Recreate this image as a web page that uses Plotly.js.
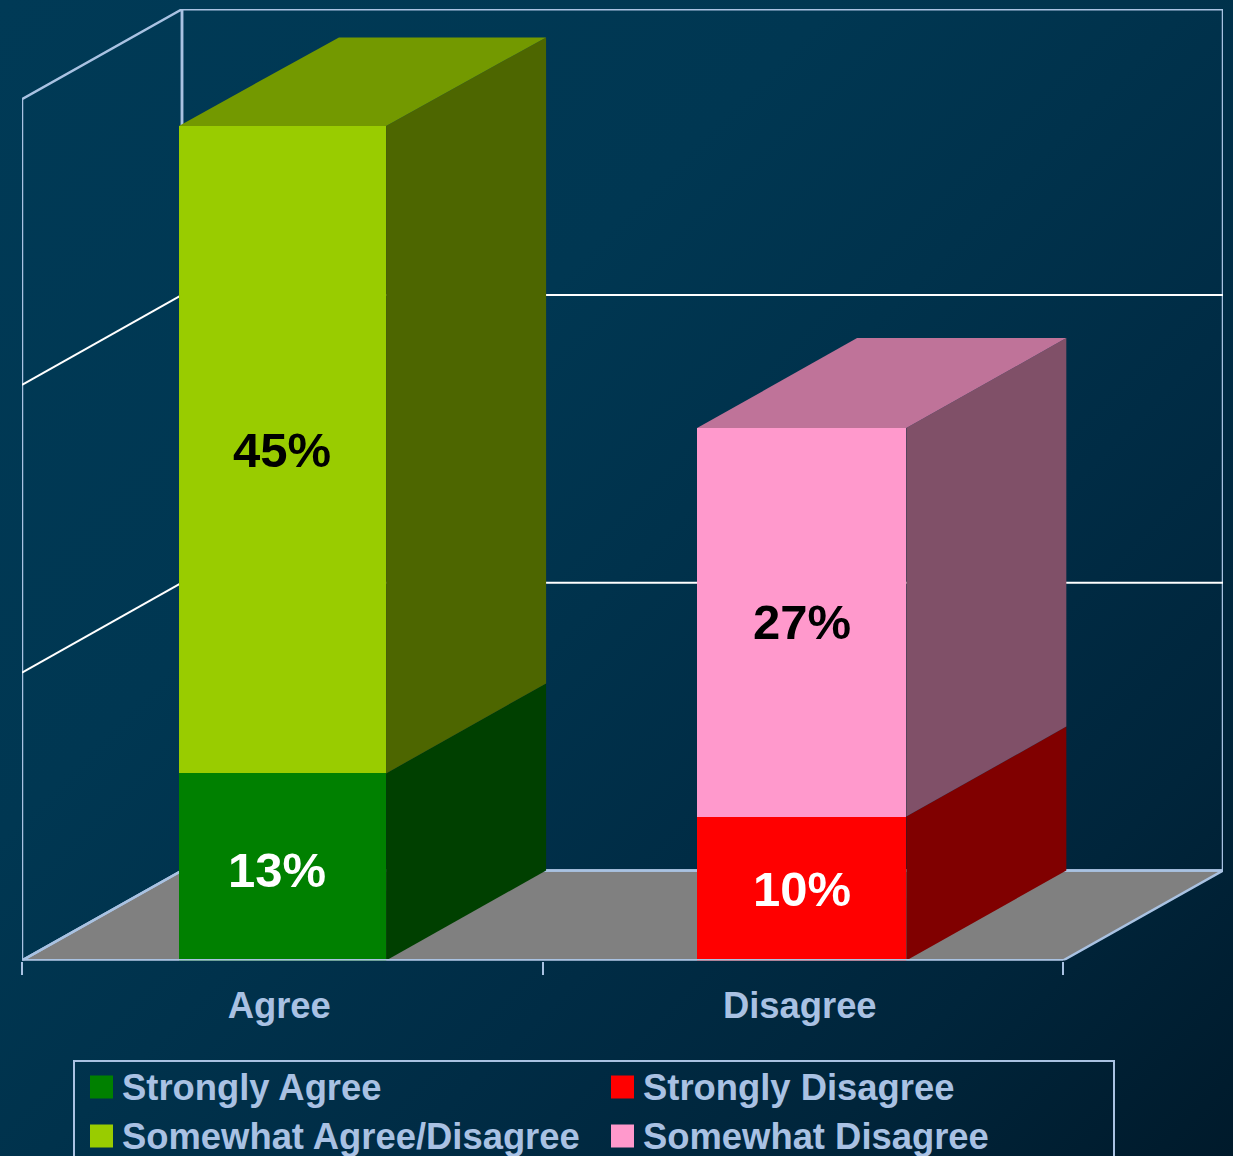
<!DOCTYPE html>
<html>
<head>
<meta charset="utf-8">
<script src="https://cdn.plot.ly/plotly-3.0.1.min.js"></script>
<style>
html,body{margin:0;padding:0;width:1233px;height:1156px;overflow:hidden;
background:linear-gradient(135deg,#003a56 0%,#003752 35%,#00324c 50%,#002c45 65%,#00253b 82%,#001a2b 100%);}
#chart{width:1233px;height:1156px;}
</style>
</head>
<body>
<div id="chart"></div>
<script>
// ---- data ----
const categories = ['Agree', 'Disagree'];
const stronglyAgree = [13, null];
const somewhatAgreeDisagree = [45, null];
const stronglyDisagree = [null, 10];
const somewhatDisagree = [null, 27];
const seriesNames = ['Strongly Agree', 'Somewhat Agree/Disagree', 'Strongly Disagree', 'Somewhat Disagree'];
const frontColors = ['#008000', '#99CC00', '#FF0000', '#FF99CC'];
const sideColors = ['#004000', '#4D6600', '#800000', '#805068'];
const topColors = ['#006000', '#739900', '#C00000', '#BF7399'];
const labelColors = ['#FFFFFF', '#000000', '#FFFFFF', '#000000'];
const labelShiftsX = [-5, 0, -1, -1];
const labelShiftsY = [-3, 0, 0, 0];
const gridValues = [20, 40];
const wallTopValue = 59.85;

// ---- geometry ----
const W = 1233, H = 1156;
const plotL = 22, plotR = 1223, plotT = 9, plotB = 960.5;
const catPx = 520.5, valPx = 14.39;
const depthX = 160 / catPx, depthY = 90 / valPx;
const barCentres = [0.0005, 0.998];
const barWidths = [0.398, 0.402];
const topDepthY = [88.5 / valPx, 90 / valPx];
const xMin = -0.5, xFront = 1.5, xMax = xFront + depthX;
const lineColor = '#A9C2E2', textColor = '#A9C1E3';
const font = '"Liberation Sans", Arial, sans-serif';
const px = v => v / W, py = v => 1 - v / H;

const series = [stronglyAgree, somewhatAgreeDisagree, stronglyDisagree, somewhatDisagree];

const poly = pts => 'M' + pts.map(p => p[0] + ',' + p[1]).join('L') + 'Z';
const lineShape = (a, b, color, width) => ({type: 'line', xref: 'x', yref: 'y', layer: 'below',
  x0: a[0], y0: a[1], x1: b[0], y1: b[1], line: {color, width}});

const shapes = [];
// floor
shapes.push({type: 'path', xref: 'x', yref: 'y', layer: 'below',
  path: poly([[xMin, 0], [xFront, 0], [xFront + depthX, depthY], [xMin + depthX, depthY]]),
  fillcolor: '#808080', line: {color: lineColor, width: 2.5}});
// left and back walls
shapes.push({type: 'path', xref: 'x', yref: 'y', layer: 'below',
  path: poly([[xMin, 0], [xMin, wallTopValue], [xMin + depthX, wallTopValue + depthY], [xMin + depthX, depthY]]),
  line: {color: lineColor, width: 2.5}});
shapes.push({type: 'path', xref: 'x', yref: 'y', layer: 'below',
  path: poly([[xMin + depthX, depthY], [xMin + depthX, wallTopValue + depthY], [xMax, wallTopValue + depthY], [xMax, depthY]]),
  line: {color: lineColor, width: 2.5}});
// gridlines
gridValues.forEach(g => {
  shapes.push(lineShape([xMin, g], [xMin + depthX, g + depthY], '#FFFFFF', 2));
  shapes.push(lineShape([xMin + depthX, g + depthY], [xMax, g + depthY], '#FFFFFF', 2));
});

const traces = [];
const annotations = [];
const base = categories.map(() => 0);

// front faces come from stacked bars; side and top faces share their values
series.forEach((vals, s) => {
  traces.push({type: 'bar', name: seriesNames[s], x: barCentres, y: vals,
    width: barWidths, marker: {color: frontColors[s], line: {width: 0}}, showlegend: false, hoverinfo: 'name+y'});
  vals.forEach((v, i) => {
    if (v === null) return;
    const b = base[i], t = b + v;
    const xl = barCentres[i] - barWidths[i] / 2, xr = barCentres[i] + barWidths[i] / 2;
    const isTop = series.every((o, k) => k <= s || o[i] === null);
    const dyTop = isTop ? topDepthY[i] : depthY;
    traces.push({type: 'scatter', mode: 'lines', fill: 'toself', fillcolor: sideColors[s],
      x: [xr, xr + depthX, xr + depthX, xr], y: [b, b + depthY, t + dyTop, t],
      line: {width: 0, color: sideColors[s]}, showlegend: false, hoverinfo: 'skip'});
    if (isTop) {
      traces.push({type: 'scatter', mode: 'lines', fill: 'toself', fillcolor: topColors[s],
        x: [xl, xl + depthX, xr + depthX, xr], y: [t, t + dyTop, t + dyTop, t],
        line: {width: 0, color: topColors[s]}, showlegend: false, hoverinfo: 'skip'});
    }
    annotations.push({xref: 'x', yref: 'y', x: i, y: b + v / 2, text: v + '%', showarrow: false,
      xshift: labelShiftsX[s], yshift: labelShiftsY[s],
      font: {family: font, size: 49, color: labelColors[s], weight: 700},
      xanchor: 'center', yanchor: 'middle'});
    base[i] = t;
  });
});

// legend box (its lower edge falls below the picture)
const legendOrder = [[0, 90, 1087], [2, 611, 1087], [1, 90, 1136], [3, 611, 1136]];
shapes.push({type: 'rect', xref: 'paper', yref: 'paper', layer: 'above',
  x0: px(74), x1: px(1114), y0: py(1061), y1: py(1175), line: {color: lineColor, width: 2}});
legendOrder.forEach(([s, x, y]) => {
  shapes.push({type: 'rect', xref: 'paper', yref: 'paper', layer: 'above',
    x0: px(x), x1: px(x + 23), y0: py(y - 11.5), y1: py(y + 11.5),
    fillcolor: frontColors[s], line: {width: 0}});
  annotations.push({xref: 'paper', yref: 'paper', x: px(x + 29.5), y: py(y), text: seriesNames[s], showarrow: false,
    xanchor: 'left', yanchor: 'middle', font: {family: font, size: 36.4, color: textColor, weight: 700}});
});

const layout = {
  width: W, height: H,
  margin: {l: 0, r: 0, t: 0, b: 0},
  paper_bgcolor: 'rgba(0,0,0,0)', plot_bgcolor: 'rgba(0,0,0,0)',
  barmode: 'stack', showlegend: false, hovermode: 'closest',
  xaxis: {
    domain: [plotL / W, plotR / W], range: [xMin, xMax], anchor: 'y',
    tickmode: 'array', tickvals: categories.map((c, i) => i), ticktext: categories,
    ticks: '', ticklabelstandoff: 20, ticklabelshift: -3,
    tickfont: {family: font, size: 36.4, color: textColor, weight: 700},
    showgrid: false, zeroline: false, showline: false,
    minor: {tickmode: 'array', tickvals: [-0.5, 0.5, 1.5], ticks: 'outside', ticklen: 13, tickwidth: 2, tickcolor: lineColor, showgrid: false},
    fixedrange: true
  },
  yaxis: {
    domain: [1 - plotB / H, 1 - plotT / H], range: [0, (plotB - plotT) / valPx], anchor: 'x',
    visible: false, fixedrange: true
  },
  shapes, annotations
};
// front edge of the floor, above the bars
layout.shapes.push({type: 'line', xref: 'x', yref: 'y', layer: 'above', x0: xMin, x1: xFront, y0: 0, y1: 0, line: {color: lineColor, width: 3}});

Plotly.newPlot('chart', traces, layout, {displayModeBar: false, staticPlot: true});
</script>
</body>
</html>
